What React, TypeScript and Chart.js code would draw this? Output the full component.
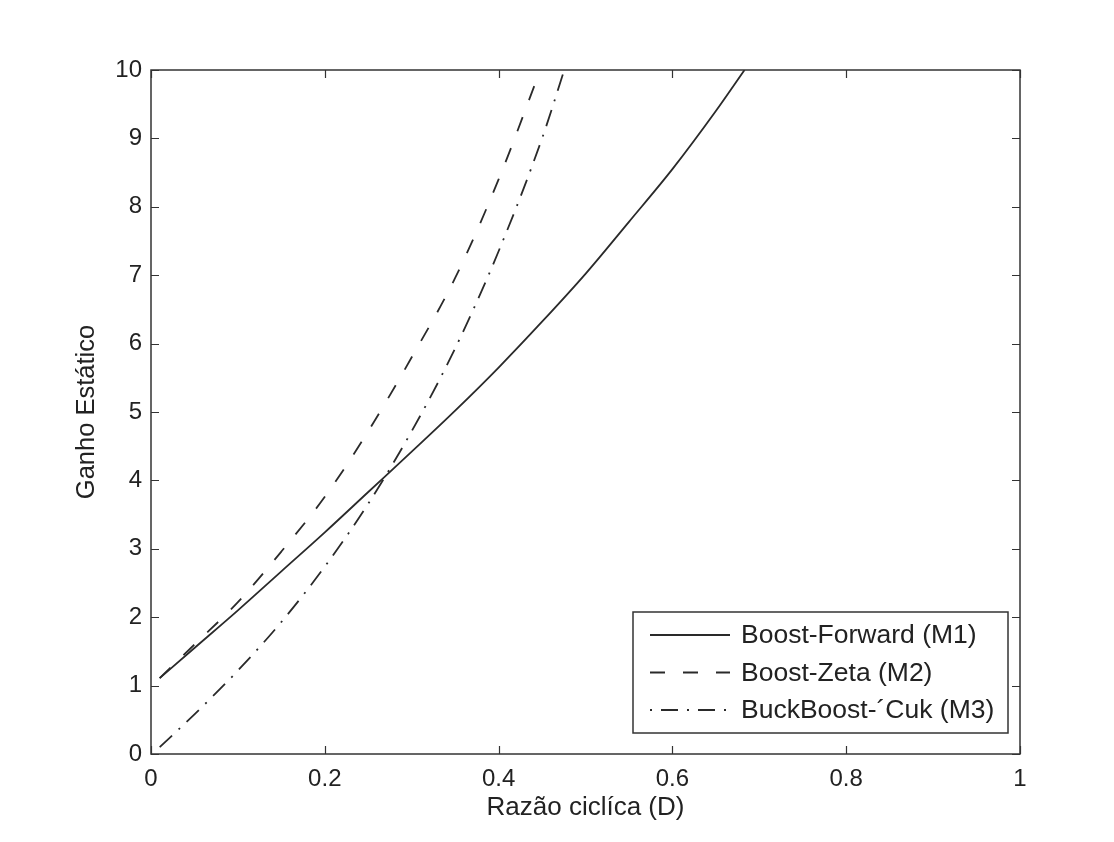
import React, { useEffect, useRef } from "react";
import { Chart, registerables } from "chart.js";

Chart.register(...registerables);

// Boost-Forward (M1)
const m1D = [0.01, 0.05, 0.1, 0.15, 0.2, 0.25, 0.3, 0.35, 0.4, 0.45, 0.5, 0.55, 0.6, 0.65, 0.683];
const m1G = [1.11, 1.55, 2.1, 2.67, 3.24, 3.83, 4.42, 5.02, 5.65, 6.32, 7.02, 7.78, 8.55, 9.4, 10];
// Boost-Zeta (M2)
const m2D = [0.01, 0.05, 0.1, 0.15, 0.2, 0.25, 0.3, 0.35, 0.4, 0.448];
const m2G = [1.11, 1.6, 2.22, 2.96, 3.76, 4.72, 5.8, 6.96, 8.4, 10];
// BuckBoost-Cuk (M3)
const m3D = [0.01, 0.05, 0.1, 0.15, 0.2, 0.25, 0.3, 0.35, 0.4, 0.45, 0.4756];
const m3G = [0.1, 0.58, 1.22, 1.93, 2.74, 3.66, 4.72, 5.93, 7.35, 9.0, 10];

const seriesLabels = ["Boost-Forward (M1)", "Boost-Zeta (M2)", "BuckBoost-\u00B4Cuk (M3)"];
const xTitle = "Razão ciclíca (D)";
const yTitle = "Ganho Estático";

const FONT = "'Liberation Sans', Arial, Helvetica, sans-serif";
const INK = "#2a2a2a";

const zip = (xs: number[], ys: number[]) => xs.map((x, i) => ({ x, y: ys[i] }));

const framePlugin = {
  id: "frame",
  afterDraw(chart: any) {
    const { ctx, chartArea: a, scales } = chart;
    const xs = scales.x;
    const ys = scales.y;
    ctx.save();
    ctx.strokeStyle = "#333";
    ctx.lineWidth = 1.5;
    ctx.strokeRect(a.left, a.top, a.right - a.left, a.bottom - a.top);
    const tl = 8;
    ctx.beginPath();
    xs.ticks.forEach((t: any) => {
      const p = Math.round(xs.getPixelForValue(t.value)) + 0.5;
      ctx.moveTo(p, a.bottom);
      ctx.lineTo(p, a.bottom - tl);
      ctx.moveTo(p, a.top);
      ctx.lineTo(p, a.top + tl);
    });
    ys.ticks.forEach((t: any) => {
      const p = Math.round(ys.getPixelForValue(t.value)) + 0.5;
      ctx.moveTo(a.left, p);
      ctx.lineTo(a.left + tl, p);
      ctx.moveTo(a.right, p);
      ctx.lineTo(a.right - tl, p);
    });
    ctx.lineWidth = 1.2;
    ctx.stroke();

    // legend box inside plot area
    const bw = 375;
    const bh = 121;
    const bx = a.right - 12 - bw;
    const by = a.bottom - 21 - bh;
    ctx.fillStyle = "#fff";
    ctx.fillRect(bx, by, bw, bh);
    ctx.strokeStyle = "#333";
    ctx.lineWidth = 1.5;
    ctx.strokeRect(bx, by, bw, bh);
    chart.data.datasets.forEach((ds: any, i: number) => {
      const cy = by + 23 + i * 37.5;
      ctx.beginPath();
      ctx.strokeStyle = ds.borderColor;
      ctx.lineWidth = ds.borderWidth;
      ctx.setLineDash(ds.borderDash || []);
      ctx.lineDashOffset = i === 2 ? 26 : 0;
      ctx.moveTo(bx + 17, cy);
      ctx.lineTo(bx + 97, cy);
      ctx.stroke();
      ctx.setLineDash([]);
      ctx.lineDashOffset = 0;
      ctx.fillStyle = "#222";
      ctx.font = `26.5px ${FONT}`;
      ctx.textBaseline = "middle";
      ctx.textAlign = "left";
      ctx.fillText(ds.label, bx + 108, cy + 1);
    });
    ctx.restore();
  },
};

export default function App() {
  const ref = useRef<HTMLCanvasElement | null>(null);
  useEffect(() => {
    if (!ref.current) return;
    const chart = new Chart(ref.current, {
      type: "line",
      data: {
        datasets: [
          {
            label: seriesLabels[0],
            data: zip(m1D, m1G),
            borderColor: INK,
            borderWidth: 1.8,
            pointRadius: 0,
            cubicInterpolationMode: "monotone",
          },
          {
            label: seriesLabels[1],
            data: zip(m2D, m2G),
            borderColor: INK,
            borderWidth: 1.8,
            borderDash: [15, 18],
            pointRadius: 0,
            cubicInterpolationMode: "monotone",
          },
          {
            label: seriesLabels[2],
            data: zip(m3D, m3G),
            borderColor: INK,
            borderWidth: 1.8,
            borderDash: [17, 9, 2, 9],
            pointRadius: 0,
            cubicInterpolationMode: "monotone",
          },
        ],
      },
      options: {
        responsive: false,
        animation: false,
        layout: { padding: { left: 0, top: 70, right: 94, bottom: 0 } },
        plugins: { legend: { display: false }, tooltip: { enabled: false } },
        scales: {
          x: {
            type: "linear",
            min: 0,
            max: 1,
            ticks: {
              stepSize: 0.2,
              color: "#222",
              font: { size: 24, family: FONT },
              padding: 11,
              maxRotation: 0,
              callback: (v: any) => String(Math.round(Number(v) * 10) / 10),
            },
            grid: { display: false, drawTicks: false },
            border: { display: false },
            title: { display: true, text: xTitle, color: "#222", font: { size: 26, family: FONT }, padding: { top: 0, bottom: 19 } },
            afterFit: (s: any) => {
              s.height = 88;
            },
          },
          y: {
            type: "linear",
            min: 0,
            max: 10,
            ticks: { stepSize: 1, color: "#222", font: { size: 24, family: FONT }, padding: 9 },
            grid: { display: false, drawTicks: false },
            border: { display: false },
            title: { display: true, text: yTitle, color: "#222", font: { size: 25.5, family: FONT }, padding: { top: 72, bottom: 0 } },
            afterFit: (s: any) => {
              s.width = 151;
            },
          },
        },
      },
      plugins: [framePlugin],
    } as any);
    return () => chart.destroy();
  }, []);
  return (
    <div style={{ position: "absolute", left: 0, top: 0, width: 1114, height: 842, background: "#fff" }}>
      <canvas ref={ref} width={1114} height={842} />
    </div>
  );
}
